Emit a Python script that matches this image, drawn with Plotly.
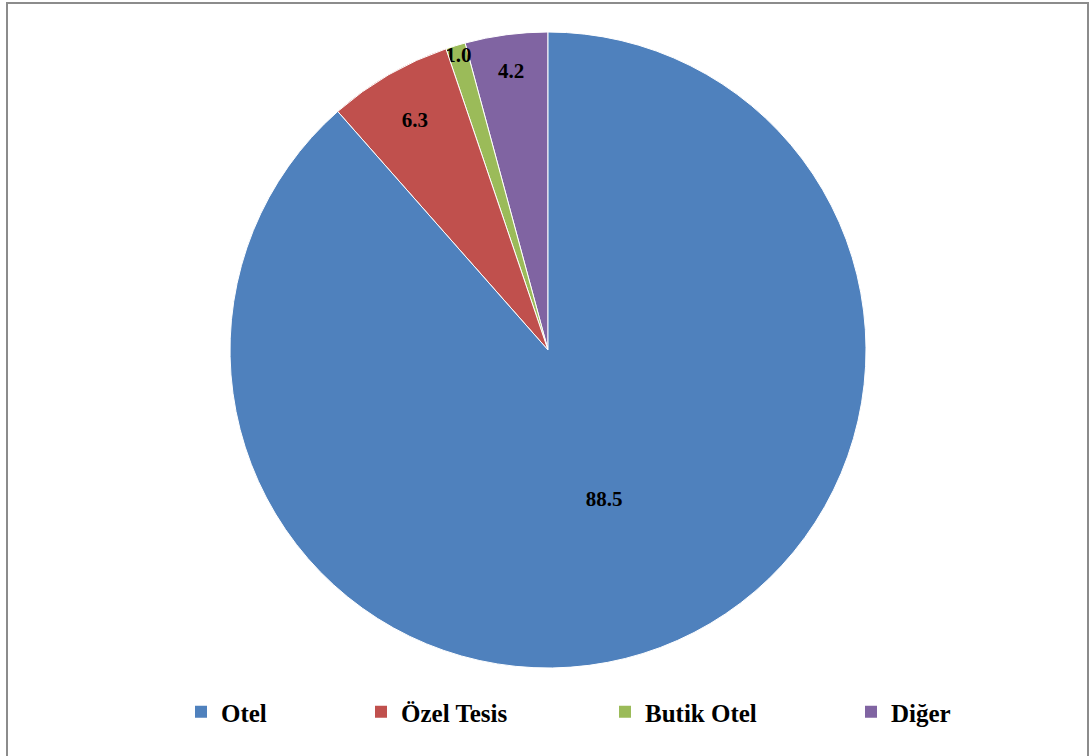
import plotly.graph_objects as go

categories = ["Otel", "Özel Tesis", "Butik Otel", "Diğer"]
values = [88.5, 6.3, 1.0, 4.2]
colors = ["#4F81BD", "#C0504D", "#9BBB59", "#8064A2"]
legend_x_px = [181, 361, 605, 851]

W, H = 1091, 756
SERIF = "Times New Roman, Liberation Serif, DejaVu Serif, serif"

# drawn in reverse order, counterclockwise, so the small labels stay on top;
# plotly ends the first counterclockwise slice at `rotation`, so offset it.
rev_vals = values[::-1]
rot = -360.0 * rev_vals[0] / sum(values)

fig = go.Figure()
fig.add_trace(go.Pie(
    labels=categories[::-1], values=rev_vals, sort=False,
    direction="counterclockwise", rotation=rot,
    marker=dict(colors=colors[::-1], line=dict(color="white", width=1)),
    text=[f"{v:.1f}" for v in rev_vals], textinfo="text", textposition="inside",
    insidetextorientation="horizontal",
    textfont=dict(family=SERIF, size=21, color="black", weight="bold"),
    domain=dict(x=[230 / W, 866 / W], y=[1 - 668 / H, 1 - 32 / H]),
    showlegend=False, hoverinfo="label+value",
))

for i, (cat, col) in enumerate(zip(categories, colors)):
    lg = "legend" if i == 0 else f"legend{i+1}"
    fig.add_trace(go.Scatter(
        x=[None], y=[None], mode="markers", name=cat,
        marker=dict(symbol="square", size=12, color=col),
        legend=lg, showlegend=True,
    ))

legend_common = dict(
    orientation="h", yanchor="middle", y=1 - 712 / H, xanchor="left",
    font=dict(family=SERIF, size=25, color="black", weight="bold"),
    bgcolor="rgba(0,0,0,0)", itemwidth=30,
)
layout_legends = {}
for i, lx in enumerate(legend_x_px):
    key = "legend" if i == 0 else f"legend{i+1}"
    layout_legends[key] = dict(legend_common, x=lx / W)

fig.update_layout(
    width=W, height=H, margin=dict(l=0, r=0, t=0, b=0),
    paper_bgcolor="white", plot_bgcolor="white",
    uniformtext=dict(minsize=21, mode="show"),
    xaxis=dict(visible=False), yaxis=dict(visible=False),
    shapes=[dict(type="rect", xref="paper", yref="paper",
                 x0=7 / W, x1=1088 / W, y0=-0.02, y1=1 - 3 / H,
                 line=dict(color="#8C8C8C", width=2), fillcolor="rgba(0,0,0,0)")],
    **layout_legends,
)
fig.write_html("out.html", config={"displayModeBar": False},
               post_script="document.body.style.margin='0';document.body.style.overflow='hidden';")
